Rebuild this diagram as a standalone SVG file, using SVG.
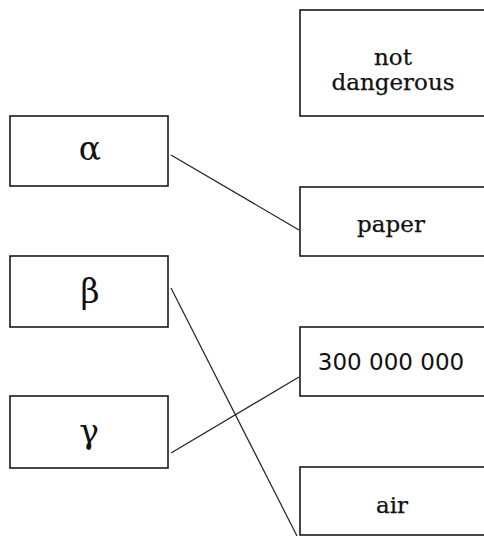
<svg xmlns="http://www.w3.org/2000/svg" width="484" height="536" viewBox="0 0 484 536">
<style>
.box{fill:#fff;stroke:#1a1a1a;stroke-width:1.6}
.t{font-family:"DejaVu Serif","Liberation Serif",serif;font-size:23px;fill:#111;stroke:#111;stroke-width:0.25;text-anchor:middle}
.g{font-family:"DejaVu Serif","Liberation Serif",serif;font-size:33px;fill:#111;text-anchor:middle}
.n{font-family:"DejaVu Sans","Liberation Sans",sans-serif;font-size:23px;fill:#111;text-anchor:middle}
.c{stroke:#222;stroke-width:1.2;fill:none}
</style>
<rect width="484" height="536" fill="#fff"/>
<g id="alpha"><rect class="box" x="10" y="116" width="158" height="70"/><text class="g" x="90" y="160">α</text></g>
<g id="beta"><rect class="box" x="10" y="256" width="158" height="71"/><text class="g" x="90" y="303">β</text></g>
<g id="gamma"><rect class="box" x="10" y="396" width="158" height="72"/><text class="g" x="89" y="443">γ</text></g>
<g id="not-dangerous"><rect class="box" x="300" y="10" width="190" height="106"/><text class="t" x="393" y="65">not</text><text class="t" x="393" y="90">dangerous</text></g>
<g id="paper"><rect class="box" x="300" y="187" width="190" height="69"/><text class="t" x="391" y="232">paper</text></g>
<g id="speed"><rect class="box" x="300" y="327" width="190" height="69"/><text class="n" x="391" y="370">300 000 000</text></g>
<g id="air"><rect class="box" x="300" y="467" width="190" height="68"/><text class="t" x="392" y="513">air</text></g>
<g id="connectors">
<line class="c" x1="171" y1="155" x2="299" y2="230"/>
<line class="c" x1="171" y1="288" x2="297" y2="536"/>
<line class="c" x1="171" y1="453" x2="299" y2="377"/>
</g>
</svg>
